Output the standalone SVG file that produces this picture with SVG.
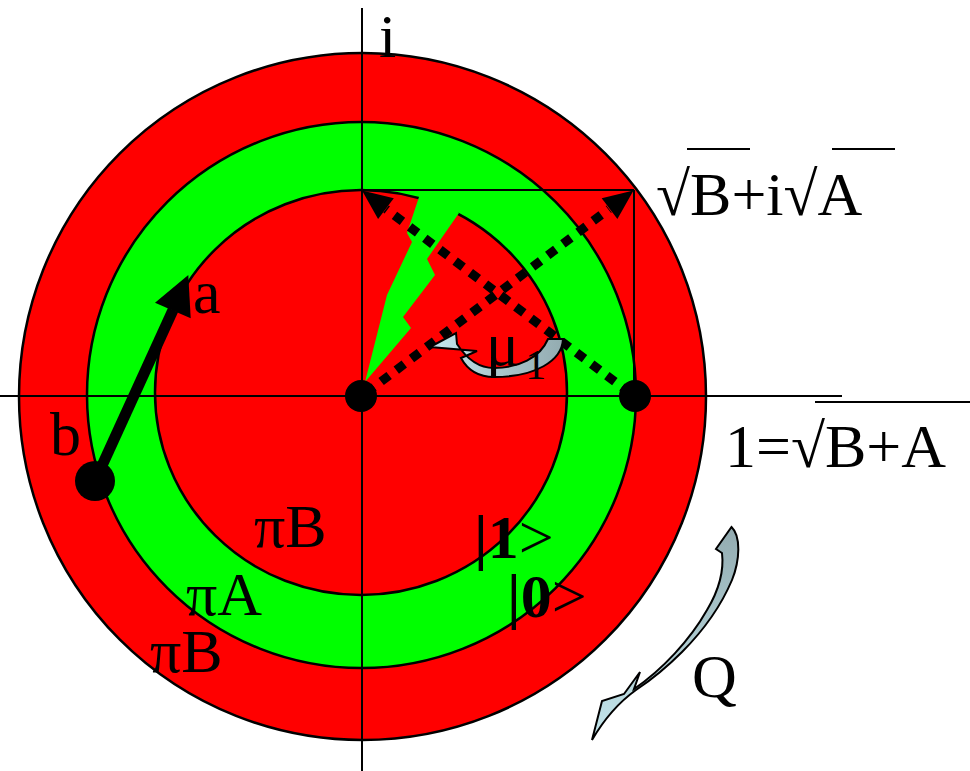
<svg xmlns="http://www.w3.org/2000/svg" width="970" height="771" viewBox="0 0 970 771">
<style>
.ring{stroke:#000;stroke-width:2.5}
.thin{stroke:#000;stroke-width:2;fill:none}
.dot{fill:#000}
.dash{stroke:#000;stroke-width:9;stroke-dasharray:10 9;fill:none}
.t{font-family:"Liberation Serif","Times New Roman",serif;font-size:62px;fill:#000}
.cv{stroke:#000;stroke-width:2;stroke-linejoin:miter}
</style>
<defs>
<linearGradient id="gq" x1="0" y1="1" x2="0" y2="0">
<stop offset="0" stop-color="#c4e6ec"/>
<stop offset="1" stop-color="#93abb0"/>
</linearGradient>
<linearGradient id="gm" x1="0" y1="0" x2="1" y2="0">
<stop offset="0" stop-color="#c4e6ec"/>
<stop offset="1" stop-color="#93abb0"/>
</linearGradient>
</defs>
<g id="rings">
<ellipse id="outer-ring" class="ring" cx="362.5" cy="396.5" rx="343.5" ry="343.5" fill="#ff0000"/>
<ellipse id="green-ring" class="ring" cx="361.5" cy="395" rx="274.5" ry="273" fill="#00ff00"/>
<ellipse id="inner-disc" class="ring" cx="361" cy="392.5" rx="206" ry="202.5" fill="#ff0000"/>
<polygon id="bolt" points="422,188 440,188 459,213 427,259 435,275 403,317 411,328 365,382 387,295 412,242 407,233" fill="#00ff00"/>
</g>
<g id="connectors">
<line class="thin" x1="362" y1="8" x2="362" y2="771"/>
<line class="thin" x1="0" y1="396" x2="842" y2="396"/>
<line class="thin" x1="362" y1="190" x2="634" y2="190"/>
<line class="thin" x1="634" y1="190" x2="634" y2="396"/>
<line class="dash" x1="366" y1="393" x2="609" y2="209"/>
<polygon points="633.5,190.5 601.7,198.2 617.4,219" fill="#000"/>
<line class="dash" x1="630" y1="393" x2="386" y2="209"/>
<polygon points="362,190.5 393.8,198.2 378.1,219" fill="#000"/>
<line x1="95" y1="481" x2="173" y2="310" stroke="#000" stroke-width="11"/>
<polygon points="188.3,275 155,302.7 190.7,318.3" fill="#000"/>
</g>
<g id="node-origin"><circle class="dot" cx="361" cy="396" r="16"/></g>
<g id="node-one"><circle class="dot" cx="635" cy="396" r="16"/></g>
<g id="node-b"><circle class="dot" cx="95" cy="481" r="20"/></g>
<g id="mu-arrow">
<path class="cv" fill="url(#gm)" d="M430,347 L456,333 L457,344 C468,361 481,368 494,368 C518,368 540,358 548,339 L563,339 C562,361 535,377 494,377 C478,377 467,369 461,358 L477,351 Z"/>
</g>
<g id="q-arrow">
<path class="cv" fill="url(#gq)" d="M731.5,527 C741,536 740,560 732,580 C721,606 702,632 682,652 C668,666 654,678 636,690 C622,700 606,716 592,740 L602,701 L624,694 L640,672 L634,689 C662,670 690,640 707,610 C719,590 724,570 722,553 L716,549 Z"/>
</g>
<g id="labels">
<text class="t" x="379" y="57">i</text>
<text class="t" x="656" y="215">√B+i√A</text>
<line class="thin" stroke-width="2.5" x1="687" y1="149" x2="750" y2="149"/>
<line class="thin" stroke-width="2.5" x1="832" y1="149" x2="895" y2="149"/>
<text class="t" x="725" y="467">1=√B+A</text>
<line class="thin" stroke-width="2.5" x1="815" y1="402" x2="970" y2="402"/>
<text class="t" x="193" y="313">a</text>
<text class="t" x="50" y="455">b</text>
<text class="t" x="486" y="365">μ<tspan font-size="42" dx="6" dy="14">1</tspan></text>
<text class="t" font-size="56" x="254" y="547">πB</text>
<text class="t" font-size="60" x="186" y="615">πA</text>
<text class="t" font-size="58" x="150" y="672">πB</text>
<text class="t" x="474" y="558"><tspan font-weight="bold">|1</tspan>&gt;</text>
<text class="t" x="507" y="617"><tspan font-weight="bold">|0</tspan>&gt;</text>
<text class="t" x="692" y="697">Q</text>
</g>
</svg>
